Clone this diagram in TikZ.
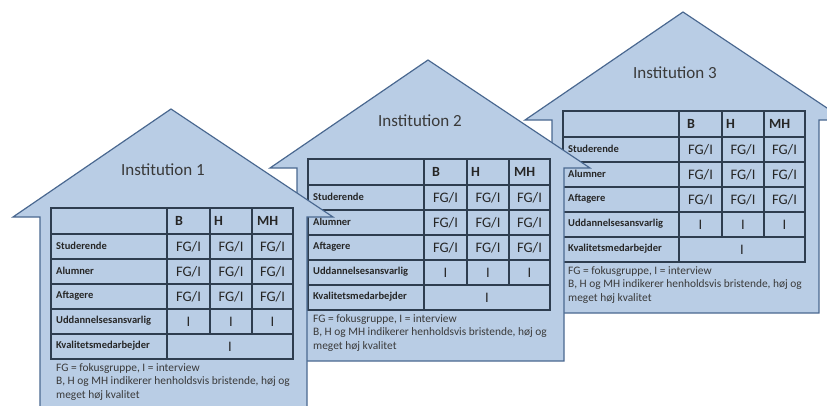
\documentclass[tikz,border=0pt]{standalone}
\usepackage{fontspec}
\setmainfont{Carlito}
\definecolor{housefillc}{HTML}{B9CDE5}
\definecolor{houseline}{HTML}{4A6890}
\definecolor{gridline}{HTML}{2E3D4F}
\definecolor{txtc}{HTML}{262626}
\definecolor{titlec}{HTML}{3A3A3A}
\tikzset{
 housebody/.style={fill=housefillc, draw=houseline, line width=1.2pt, line join=miter},
 gridstyle/.style={draw=gridline, line width=1.3pt},
 titletext/.style={font=\fontsize{17}{19}\selectfont, text=titlec, inner sep=0},
 headtext/.style={font=\fontsize{14}{16}\selectfont\bfseries, text=txtc, anchor=west, inner sep=0},
 labeltext/.style={font=\fontsize{10.5}{12}\selectfont\bfseries, text=txtc, anchor=west, inner sep=0},
 celltext/.style={font=\fontsize{14.5}{16}\selectfont, text=txtc, inner sep=0},
 notetext/.style={font=\fontsize{11.4}{13.5}\selectfont, text=titlec, anchor=north west, inner sep=0, align=left},
}
\newcommand\drawhouse[4]{%
 \begin{scope}[shift={(#2,#3)}]
  \path[housebody] (0,0) -- (158,-108) -- (320,0) -- (294,0) -- (294,193) -- (27,193) -- (27,0) -- cycle;
  \node[titletext] (#1-title) at (150,-47) {Institution #4};
  \draw[gridstyle] (38,-9) rectangle (280,142);
  \foreach \yy in {17,42,67,92,117} \draw[gridstyle] (38,\yy) -- (280,\yy);
  \draw[gridstyle] (154,-9) -- (154,142);
  \draw[gridstyle] (197,-9) -- (197,117);
  \draw[gridstyle] (239,-9) -- (239,117);
  \node[headtext] (#1-hb) at (162,4) {B};
  \node[headtext] (#1-hh) at (201,4) {H};
  \node[headtext] (#1-hmh) at (244,4) {MH};
  \foreach \lab [count=\i] in {Studerende,Alumner,Aftagere,Uddannelsesansvarlig,Kvalitetsmedarbejder}
    \node[labeltext] (#1-l\i) at (43,{3.5+25*\i}) {\lab};
  \foreach \i in {1,2,3} {
    \node[celltext] (#1-b\i) at (175.5,{4.5+25*\i}) {FG/I};
    \node[celltext] (#1-h\i) at (218,{4.5+25*\i}) {FG/I};
    \node[celltext] (#1-m\i) at (259.5,{4.5+25*\i}) {FG/I};
  }
  \node[celltext] (#1-b4) at (175.5,104.5) {I};
  \node[celltext] (#1-h4) at (218,104.5) {I};
  \node[celltext] (#1-m4) at (259.5,104.5) {I};
  \node[celltext] (#1-k5) at (217,129.5) {I};
  \node[notetext] (#1-note) at (43,146) {FG = fokusgruppe, I = interview\\B, H og MH indikerer henholdsvis bristende, høj og\\meget høj kvalitet};
 \end{scope}}
\begin{document}
\begin{tikzpicture}[x=1pt,y=-1pt]
\useasboundingbox (0,0) rectangle (827,405);
\clip (0,0) rectangle (827,405);
\drawhouse{hthree}{525}{120}{3}
\drawhouse{htwo}{270}{168}{2}
\drawhouse{hone}{13}{217}{1}
\end{tikzpicture}
\end{document}
